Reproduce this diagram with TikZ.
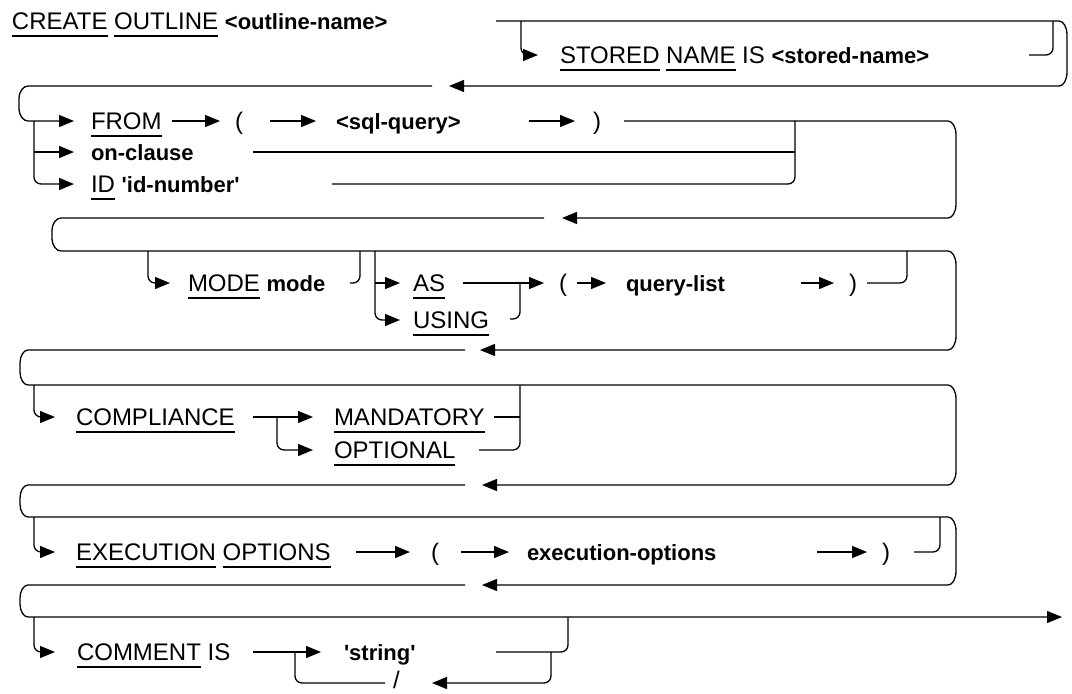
\documentclass[tikz,border=0pt]{standalone}
\usepackage{fontspec}
\setmainfont{Liberation Sans}
\usetikzlibrary{arrows.meta}
\newcommand\kwfont{\fontsize{24}{26}\selectfont}
\newcommand\pf[1]{{\fontsize{22}{24}\selectfont\bfseries #1}}
\newcommand\kwul[1]{\setbox0\hbox{#1}\rlap{\rule[-7pt]{\wd0}{1.3pt}}\box0\relax}
\newcommand\sq{\textquotesingle}
\tikzset{
  lp/.style={draw, line width=1.3pt},
  ln/.style={lp, rounded corners=7pt},
  arr/.style={-{Triangle[length=15pt,width=12pt]}},
  kwt/.style={inner sep=0pt, outer sep=0pt, anchor=west, text height=17pt, text depth=0pt, font=\kwfont},
}
\begin{document}
\begin{tikzpicture}[x=1pt,y=-1pt]
\useasboundingbox (0,0) rectangle (1072,694);
% Row 1
\node[kwt] (create) at (12,21) {\kwul{CREATE} \kwul{OUTLINE} \pf{<outline-name>}};
\node[kwt] (stored) at (560,55) {\kwul{STORED} \kwul{NAME} IS \pf{<stored-name>}};
\draw[lp,arr] (496,21) -- (1059,21) .. controls (1063.4,21) and (1067,27) .. (1067,35) -- (1067,72) .. controls (1067,80) and (1063.4,86) .. (1059,86) -- (449,86);
\draw[ln,arr] (521,21) -- (521,55) -- (538,55);
\draw[ln] (1029,55) -- (1053,55) -- (1053,21);
% Row 2
\draw[lp,arr] (432,86) -- (28,86) .. controls (23.6,86) and (19,91) .. (19,99) -- (19,108) .. controls (19,116) and (23.6,121) .. (28,121) -- (74,121);
\draw[ln,arr] (34,121) -- (34,184) -- (74,184);
\draw[ln,arr] (34,152) -- (74,152);
\node[kwt] (from) at (91,121) {\kwul{FROM}};
\node[kwt] (onc) at (91,152) {\pf{on-clause}};
\node[kwt] (idn) at (91,184) {\kwul{ID} \pf{\sq id-number\sq}};
\draw[ln,arr] (172,121) -- (220,121);
\node[kwt] (lpa) at (235,121) {(};
\draw[ln,arr] (270,121) -- (316,121);
\node[kwt] (sql) at (336,121) {\pf{<sql-query>}};
\draw[ln,arr] (529,121) -- (575,121);
\node[kwt] (rpa) at (593,121) {)};
\draw[ln] (253,152) -- (795,152);
\draw[ln] (332,184) -- (795,184) -- (795,121);
\draw[lp,arr] (624,121) -- (948,121) .. controls (952.4,121) and (956,127) .. (956,135) -- (956,204) .. controls (956,212) and (952.4,218) .. (948,218) -- (562,218);
% Row 3
\draw[lp,arr] (544,218) -- (61,218) .. controls (56.6,218) and (52,223) .. (52,231) -- (52,238) .. controls (52,246) and (56.6,251) .. (61,251) -- (948,251) .. controls (952.4,251) and (956,257) .. (956,265) -- (956,336) .. controls (956,344) and (952.4,350) .. (948,350) -- (480,350);
\draw[ln,arr] (148,251) -- (148,283) -- (170,283);
\node[kwt] (mode) at (188,283) {\kwul{MODE} \pf{mode}};
\draw[ln] (350,283) -- (360,283) -- (360,251);
\draw[ln,arr] (375,251) -- (375,320) -- (400,320);
\draw[ln,arr] (375,283) -- (400,283);
\node[kwt] (as) at (413,283) {\kwul{AS}};
\node[kwt] (using) at (413,320) {\kwul{USING}};
\draw[ln,arr] (463,283) -- (544,283);
\draw[ln] (510,319) -- (520,319) -- (520,283);
\node[kwt] (lpb) at (559,283) {(};
\draw[ln,arr] (577,283) -- (606,283);
\node[kwt] (qlist) at (626,283) {\pf{query-list}};
\draw[ln,arr] (801,283) -- (834,283);
\node[kwt] (rpb) at (849,283) {)};
\draw[ln] (867,283) -- (907,283) -- (907,251);
% Row 4
\draw[lp,arr] (465,350) -- (28,350) .. controls (23.6,350) and (20,356) .. (20,363) -- (20,372) .. controls (20,379) and (23.6,385) .. (28,385) -- (948,385) .. controls (952.4,385) and (956,391) .. (956,399) -- (956,471) .. controls (956,479) and (952.4,485) .. (948,485) -- (482,485);
\draw[ln,arr] (34,385) -- (34,417) -- (55,417);
\node[kwt] (compl) at (76,417) {\kwul{COMPLIANCE}};
\draw[ln,arr] (253,417) -- (313,417);
\draw[ln,arr] (277,417) -- (277,450) -- (313,450);
\node[kwt] (mand) at (334,417) {\kwul{MANDATORY}};
\node[kwt] (opt) at (334,450) {\kwul{OPTIONAL}};
\draw[ln] (494,417) -- (520,417);
\draw[ln] (479,450) -- (520,450) -- (520,385);
% Row 5
\draw[lp,arr] (465,485) -- (28,485) .. controls (23.6,485) and (20,491) .. (20,498) -- (20,504) .. controls (20,511) and (23.6,517) .. (28,517) -- (948,517) .. controls (952.4,517) and (956,523) .. (956,531) -- (956,571) .. controls (956,579) and (952.4,585) .. (948,585) -- (482,585);
\draw[ln,arr] (34,517) -- (34,552) -- (55,552);
\node[kwt] (exec) at (76,552) {\kwul{EXECUTION} \kwul{OPTIONS}};
\draw[ln,arr] (356,552) -- (410,552);
\node[kwt] (lpc) at (431,552) {(};
\draw[ln,arr] (461,552) -- (509,552);
\node[kwt] (eopt) at (527,552) {\pf{execution-options}};
\draw[ln,arr] (817,552) -- (867,552);
\node[kwt] (rpc) at (882,552) {)};
\draw[ln] (914,552) -- (940,552) -- (940,517);
% Row 6
\draw[lp,arr] (465,585) -- (28,585) .. controls (23.6,585) and (20,591) .. (20,598) -- (20,604) .. controls (20,611) and (23.6,617) .. (28,617) -- (1062,617);
\draw[ln,arr] (34,617) -- (34,652) -- (55,652);
\node[kwt] (comm) at (77,652) {\kwul{COMMENT} IS};
\draw[ln,arr] (253,652) -- (321,652);
\draw[ln] (295,652) -- (295,683) -- (385,683);
\node[kwt] (str) at (344,652) {\pf{\sq string\sq}};
\node[kwt] (slash) at (393,680) {/};
\draw[ln] (496,652) -- (568,652) -- (568,617);
\draw[ln,arr] (551,652) -- (551,683) -- (432,683);
\end{tikzpicture}
\end{document}
